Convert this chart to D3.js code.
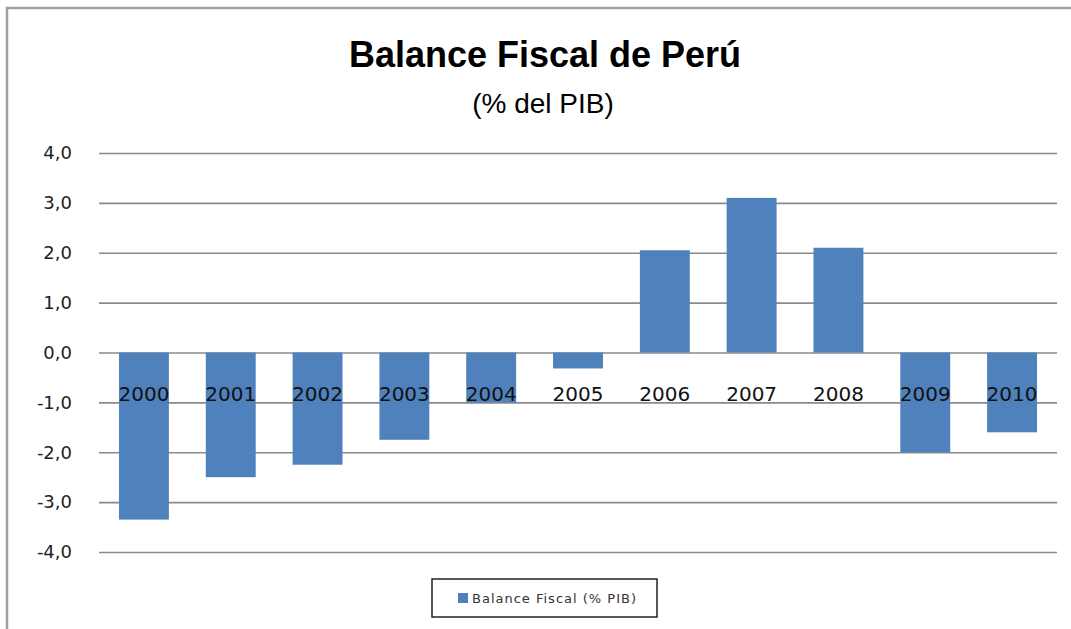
<!DOCTYPE html>
<html>
<head>
<meta charset="utf-8">
<script src="https://cdn.jsdelivr.net/npm/d3@7"></script>
<style>
  body { margin: 0; background: #fff; }
  svg { display: block; }
</style>
</head>
<body>
<svg id="chart"></svg>
<script>
// Data
const years = ["2000", "2001", "2002", "2003", "2004", "2005", "2006", "2007", "2008", "2009", "2010"];
const balance = [-3.35, -2.5, -2.25, -1.75, -1.0, -0.32, 2.05, 3.1, 2.1, -2.0, -1.6];
const yTicks = [-4, -3, -2, -1, 0, 1, 2, 3, 4];
const seriesName = "Balance Fiscal (% PIB)";

const W = 1071, H = 629;
let margin = {top: 153, right: 14, bottom: 77, left: 99};

let svg = d3.select("#chart")
    .attr("width", W)
    .attr("height", H);

// chart frame (runs past the right and bottom edges)
svg.append("rect")
    .attr("x", 7)
    .attr("y", 8)
    .attr("width", W + 20)
    .attr("height", H + 20)
    .attr("fill", "#fff")
    .attr("stroke", "#a0a0a0")
    .attr("stroke-width", 2.5);

// titles
svg.append("text")
    .attr("x", 545)
    .attr("y", 67)
    .attr("text-anchor", "middle")
    .style("font-family", "'Liberation Sans', Arial, sans-serif")
    .style("font-weight", "bold")
    .style("font-size", "36px")
    .text("Balance Fiscal de Perú");

svg.append("text")
    .attr("x", 543)
    .attr("y", 113)
    .attr("text-anchor", "middle")
    .style("font-family", "'Liberation Sans', Arial, sans-serif")
    .style("font-size", "28px")
    .text("(% del PIB)");

let g = svg.append("g")
    .attr("transform", `translate(${margin.left}, 0)`);

let width = 1057 - margin.left;

let x = d3.scaleBand()
    .domain(years)
    .range([0, width])
    .paddingInner(0.425)
    .paddingOuter(0.23);

let y = d3.scaleLinear()
    .domain([-4, 4])
    .range([552, 153]);

// comma as decimal separator, plain hyphen for minus
let locale = d3.formatLocale({decimal: ",", thousands: ".", grouping: [3], currency: ["", ""], minus: "-"});
let fmt = locale.format(".1f");

// y axis with gridlines
let yAxis = g.append("g")
    .call(d3.axisLeft(y)
      .tickValues(yTicks)
      .tickSize(-width)
      .tickPadding(27)
      .tickFormat(fmt));

yAxis.select(".domain").remove();
yAxis.selectAll(".tick line")
    .attr("stroke", "#8a8a8a")
    .attr("stroke-width", 1.6);
yAxis.selectAll(".tick text")
    .attr("fill", "#222")
    .style("font-family", "'DejaVu Sans', Verdana, sans-serif")
    .style("font-size", "18px");

// bars
g.selectAll("rect.bar")
    .data(years.map((d, i) => ({year: d, value: balance[i]})))
    .enter().append("rect")
    .attr("class", "bar")
    .attr("x", d => x(d.year))
    .attr("width", x.bandwidth())
    .attr("y", d => y(Math.max(0, d.value)))
    .attr("height", d => Math.abs(y(d.value) - y(0)))
    .attr("fill", "#4f81bd");

// category labels sit just under the zero line, over the bars
let xAxis = g.append("g")
    .attr("transform", `translate(0, ${y(0)})`)
    .call(d3.axisBottom(x).tickSize(0).tickPadding(0));

xAxis.select(".domain").remove();
xAxis.selectAll(".tick text")
    .attr("y", 48)
    .attr("dy", 0)
    .attr("fill", "#111")
    .style("font-family", "'DejaVu Sans', Verdana, sans-serif")
    .style("font-size", "20px");

// legend
let legend = svg.append("g")
    .attr("transform", "translate(432, 579)");

legend.append("rect")
    .attr("width", 225)
    .attr("height", 38)
    .attr("fill", "#fff")
    .attr("stroke", "#222")
    .attr("stroke-width", 1.5);

legend.append("rect")
    .attr("x", 26)
    .attr("y", 14)
    .attr("width", 10)
    .attr("height", 10)
    .attr("fill", "#4f81bd");

legend.append("text")
    .attr("x", 40)
    .attr("y", 24)
    .attr("fill", "#333")
    .style("font-family", "'DejaVu Sans', Verdana, sans-serif")
    .style("font-size", "13px")
    .style("letter-spacing", "1px")
    .text(seriesName);
</script>
</body>
</html>
